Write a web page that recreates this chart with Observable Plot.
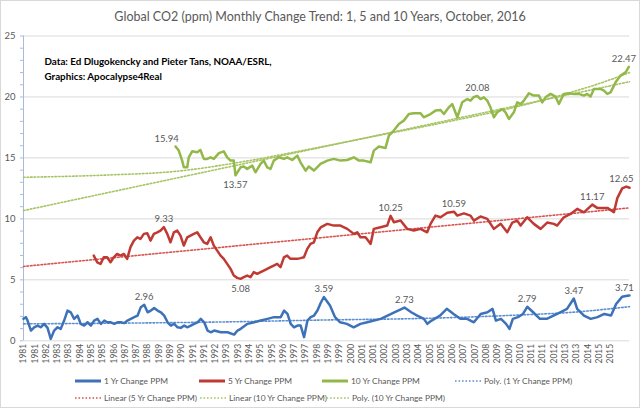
<!DOCTYPE html>
<html><head><meta charset="utf-8">
<script src="https://cdn.jsdelivr.net/npm/d3@7"></script>
<script src="https://cdn.jsdelivr.net/npm/@observablehq/plot@0.6"></script>
<style>
body{margin:0;background:#fff;}
#chart{position:relative;width:640px;height:408px;font-family:Lato,"Open Sans",sans-serif;overflow:hidden;background:#fff;}
#title{height:26px;padding-top:4px;line-height:26px;text-align:center;font-size:12.5px;color:#595959;}
#plot svg{display:block;}
#legend{position:relative;height:36px;font-size:8.4px;color:#595959;}
.item{position:absolute;display:flex;align-items:center;white-space:nowrap;height:12px;}
.item svg{margin-right:3px;}
#frame{position:absolute;left:0;top:0;width:640px;height:408px;box-sizing:border-box;border:1px solid #d9d9d9;pointer-events:none;}
</style></head>
<body>
<div id="chart">
  <div id="title">Global CO2 (ppm) Monthly Change Trend: 1, 5 and 10 Years, October, 2016</div>
  <div id="plot"></div>
  <div id="legend"></div>
  <div id="frame"></div>
</div>
<script>
// ---------- data (decimal year, ppm change) ----------
const oneYrDates = [1981.00,1981.14,1981.24,1981.44,1981.63,1981.83,1982.02,1982.22,1982.42,1982.61,1982.81,1983.01,1983.20,1983.40,1983.60,1983.79,1983.99,1984.19,1984.38,1984.58,1984.78,1984.98,1985.17,1985.37,1985.57,1985.77,1985.96,1986.16,1986.36,1986.55,1986.75,1986.95,1987.14,1987.34,1987.54,1987.74,1987.93,1988.13,1988.33,1988.52,1988.72,1988.92,1989.11,1989.31,1989.51,1989.70,1989.90,1990.10,1990.29,1990.49,1990.69,1990.88,1991.08,1991.28,1991.47,1991.67,1991.87,1992.06,1992.26,1992.65,1993.05,1993.44,1993.64,1993.83,1994.23,1994.62,1995.01,1995.41,1995.80,1996.19,1996.39,1996.59,1996.78,1996.98,1997.18,1997.37,1997.57,1997.77,1997.96,1998.16,1998.36,1998.55,1998.74,1999.10,1999.40,1999.70,2000.10,2000.50,2000.90,2001.30,2001.70,2002.10,2002.50,2002.90,2003.50,2003.90,2004.25,2004.65,2004.85,2005.10,2005.60,2006.00,2006.40,2006.80,2007.20,2007.60,2008.00,2008.40,2008.70,2008.90,2009.20,2009.50,2009.70,2009.90,2010.20,2010.50,2010.75,2011.10,2011.50,2011.90,2012.30,2012.70,2013.10,2013.50,2013.70,2014.10,2014.50,2014.90,2015.30,2015.70,2016.00,2016.36,2016.65,2016.79];
const oneYrValues = [1.80,1.94,1.66,0.84,1.11,1.25,1.11,1.39,1.06,0.16,0.84,1.11,0.98,1.66,2.48,2.34,1.80,2.07,1.39,1.25,1.52,1.25,1.66,1.80,1.39,1.66,1.52,1.52,1.39,1.52,1.52,1.45,1.66,1.80,1.94,2.07,2.76,2.96,2.34,2.48,2.68,2.48,2.34,2.07,1.52,1.25,1.39,1.11,1.06,1.25,1.11,1.25,1.39,1.52,1.80,1.52,0.84,0.70,0.84,0.70,0.70,0.51,0.84,0.98,1.39,1.52,1.66,1.80,1.94,1.94,2.48,2.20,1.39,1.11,1.25,1.25,0.30,1.66,1.94,2.07,2.48,3.10,3.59,2.89,1.94,1.52,1.39,1.11,1.39,1.52,1.66,1.80,2.07,2.34,2.73,2.34,2.07,1.80,1.39,1.66,2.07,2.62,2.20,1.80,1.80,1.52,2.20,2.34,2.62,1.66,1.80,1.39,0.98,1.80,1.94,2.20,2.79,2.34,1.80,1.80,2.07,2.34,2.62,3.47,2.62,2.07,1.80,1.94,2.20,2.07,3.02,3.62,3.70,3.71];

const fiveYrDates = [1985.15,1985.35,1985.55,1985.74,1985.94,1986.14,1986.33,1986.53,1986.73,1986.93,1987.12,1987.32,1987.52,1987.72,1987.91,1988.11,1988.31,1988.50,1988.70,1988.90,1989.09,1989.29,1989.49,1989.68,1989.88,1990.08,1990.27,1990.47,1990.67,1990.86,1991.06,1991.26,1991.45,1991.65,1991.85,1992.05,1992.24,1992.44,1992.64,1992.83,1993.03,1993.23,1993.42,1993.62,1993.82,1994.01,1994.21,1994.41,1994.60,1994.80,1995.00,1995.19,1995.39,1995.59,1995.78,1995.98,1996.18,1996.38,1996.57,1996.77,1996.97,1997.17,1997.36,1997.56,1997.76,1997.95,1998.15,1998.35,1998.55,1998.94,1999.33,1999.72,2000.12,2000.51,2000.71,2000.90,2001.20,2001.50,2001.69,2002.09,2002.48,2002.68,2002.87,2003.27,2003.66,2004.05,2004.45,2004.84,2005.04,2005.33,2005.63,2006.03,2006.42,2006.62,2007.01,2007.40,2007.60,2007.99,2008.39,2008.78,2009.18,2009.57,2009.87,2010.16,2010.36,2010.75,2011.14,2011.54,2011.93,2012.32,2012.52,2012.91,2013.31,2013.70,2014.10,2014.59,2014.88,2015.48,2015.87,2016.07,2016.36,2016.60,2016.79];
const fiveYrValues = [6.99,6.44,6.31,6.85,6.85,6.44,6.85,7.12,6.99,7.12,6.72,7.68,8.22,8.49,8.36,8.77,8.82,8.22,8.77,8.90,9.04,9.33,8.77,8.08,8.90,9.04,8.63,7.81,8.49,8.63,8.77,8.90,8.49,8.08,7.95,8.49,7.81,7.40,6.99,6.72,6.31,5.90,5.35,5.16,5.08,5.22,5.35,5.22,5.63,5.49,5.63,5.76,5.90,6.04,6.17,6.31,6.04,6.85,6.99,6.72,6.72,6.72,6.78,6.85,7.54,7.95,8.08,8.90,9.30,9.59,9.45,9.45,9.18,8.77,8.90,8.49,8.49,7.95,9.18,9.32,9.45,10.25,9.73,9.86,9.18,9.04,9.18,8.90,9.59,10.27,10.13,10.50,10.59,10.27,10.45,10.27,9.86,10.20,10.00,9.18,9.60,8.90,9.70,9.86,9.45,10.13,9.59,9.18,9.70,9.59,9.45,10.13,10.41,10.82,10.54,11.17,10.90,10.90,10.55,11.70,12.50,12.65,12.55];

const tenYrDates = [1989.98,1990.17,1990.37,1990.47,1990.67,1990.76,1990.96,1991.26,1991.45,1991.65,1991.85,1992.05,1992.24,1992.54,1992.83,1993.03,1993.23,1993.42,1993.52,1993.82,1994.01,1994.21,1994.51,1994.70,1995.00,1995.19,1995.39,1995.59,1995.78,1996.08,1996.38,1996.57,1996.87,1997.17,1997.36,1997.66,1997.85,1998.15,1998.44,1998.54,1998.94,1999.33,1999.72,2000.12,2000.51,2000.81,2001.10,2001.50,2001.69,2001.99,2002.38,2002.58,2002.87,2003.17,2003.46,2003.76,2004.05,2004.45,2004.64,2005.04,2005.33,2005.63,2005.83,2006.12,2006.32,2006.62,2006.91,2007.21,2007.40,2007.60,2007.80,2007.99,2008.19,2008.39,2008.58,2008.78,2008.98,2009.27,2009.47,2009.67,2009.96,2010.16,2010.36,2010.55,2010.85,2011.14,2011.44,2011.64,2011.83,2012.13,2012.42,2012.62,2012.91,2013.21,2013.50,2013.80,2014.10,2014.29,2014.49,2014.69,2015.08,2015.28,2015.48,2015.67,2015.97,2016.26,2016.56,2016.75];
const tenYrValues = [15.94,15.60,14.78,14.23,14.23,15.05,15.54,15.46,15.65,14.92,14.92,15.05,14.92,15.39,15.54,15.05,14.78,14.78,13.57,14.23,14.29,14.10,14.37,13.82,14.51,14.78,14.23,14.10,14.78,15.05,14.92,15.05,14.83,15.19,14.64,13.96,14.29,13.96,14.37,14.51,14.78,14.92,14.78,14.83,15.05,14.78,14.78,14.64,15.60,15.93,15.82,16.83,17.24,17.78,18.06,18.60,18.66,18.66,18.33,18.60,18.88,18.93,18.60,19.15,19.42,18.33,19.56,19.83,19.70,20.00,20.08,19.83,19.97,19.70,19.15,18.33,18.74,19.01,18.74,18.19,18.74,19.56,19.42,19.70,20.30,20.11,20.11,19.56,19.97,20.25,20.03,19.42,20.25,20.30,20.25,20.25,20.11,20.25,20.03,20.66,20.66,20.52,20.25,20.38,21.20,21.75,22.02,22.47];

// trendlines
const polyOneDates = [1981, 1987, 1993, 1998.5, 2005, 2010, 2013.5, 2016.79];
const polyOneValues = [1.39, 1.45, 1.55, 1.70, 1.85, 2.10, 2.35, 2.80];
const linFiveDates = [1981, 2016.79];
const linFiveValues = [6.10, 10.90];
const linTenDates = [1981, 2016.79];
const linTenValues = [10.68, 21.25];
const polyTenDates = [1981, 1986, 1990, 1994, 1998, 2002, 2006, 2010, 2013, 2015, 2016.79];
const polyTenValues = [13.41, 13.60, 13.90, 14.70, 15.75, 16.85, 17.95, 19.15, 20.25, 21.10, 22.00];

// data labels
const labelDates = [1988.13, 1998.74, 2003.50, 2010.75, 2013.50, 2016.79, 1989.29, 1993.82, 2002.68, 2006.42, 2014.59, 2016.60, 1989.98, 1993.52, 2007.80, 2016.75];
const labelValues = [2.96, 3.59, 2.73, 2.79, 3.47, 3.71, 9.33, 5.08, 10.25, 10.59, 11.17, 12.65, 15.94, 13.57, 20.08, 22.47];

// axes
const yTickValues = [0, 5, 10, 15, 20, 25];
const xTickLabels = ["1981","1981","1982","1983","1983","1984","1985","1985","1986","1987","1987","1988","1989","1989","1990","1991","1991","1992","1993","1993","1994","1995","1995","1996","1997","1997","1998","1999","1999","2000","2001","2001","2002","2003","2003","2004","2005","2005","2006","2007","2007","2008","2009","2009","2010","2011","2011","2012","2013","2013","2014","2015","2015"];
const annotation = "Data: Ed Dlugokencky and Pieter Tans, NOAA/ESRL,\nGraphics: Apocalypse4Real";

// ---------- build ----------
const BLUE = "#3d72b8", RED = "#be3a32", GREEN = "#93b84a";
const BLUE_T = "#5b8fd3", RED_T = "#d9534f", GREEN_T = "#a6c464";
const zip = (ds, vs) => ds.map((t, i) => ({t, v: vs[i]}));
const oneYr = zip(oneYrDates, oneYrValues);
const fiveYr = zip(fiveYrDates, fiveYrValues);
const tenYr = zip(tenYrDates, tenYrValues);
const labels = labelDates.map((t, i) => ({t, v: labelValues[i], text: labelValues[i].toFixed(2)}));
const belowSet = new Set(["5.08", "13.57"]);
const leftSet = new Set(["15.94"]);
const edgeSet = new Set(["3.71", "12.65", "22.47"]);
const isPlain = d => !belowSet.has(d.text) && !leftSet.has(d.text) && !edgeSet.has(d.text);
const xTickPos = xTickLabels.map((s, i) => 1981 + i * 8 / 12);
const xLabelMap = new Map(xTickPos.map((p, i) => [p, xTickLabels[i]]));
const minorTicks = d3.range(0, 26);

const dotted = {strokeWidth: 1.6, strokeDasharray: "1.6 1.9"};
const labelStyle = {x: "t", y: "v", text: "text", fill: "#595959", fontSize: 9.5};

const chart = Plot.plot({
  width: 640, height: 342,
  marginLeft: 23, marginRight: 11, marginTop: 5.5, marginBottom: 31.7,
  x: {type: "linear", domain: [1981, 2016.79], axis: null},
  y: {domain: [0, 25], axis: null},
  style: {fontFamily: "Lato, 'Open Sans', sans-serif", fontSize: "9px", color: "#595959", background: "white", overflow: "visible"},
  marks: [
    Plot.ruleY(yTickValues.filter(d => d > 0), {stroke: "#d9d9d9"}),
    Plot.ruleY([0], {stroke: "#d9d9d9"}),
    Plot.ruleX([1981], {y1: 0, y2: 25, stroke: "#a9bbda"}),
    Plot.axisY({ticks: minorTicks, tickSize: 3, tickFormat: () => "", stroke: "#a9bbda", label: null}),
    Plot.axisY({ticks: yTickValues, tickSize: 0, tickPadding: 8, fill: "#595959", fontSize: 9.5, label: null}),
    Plot.axisX({ticks: xTickPos, tickFormat: d => xLabelMap.get(d), tickRotate: -90, tickSize: 0, tickPadding: 3, fill: "#595959", fontSize: 8.5, label: null}),
    Plot.line(zip(polyOneDates, polyOneValues), {x: "t", y: "v", stroke: BLUE_T, curve: "monotone-x", ...dotted}),
    Plot.line(zip(linFiveDates, linFiveValues), {x: "t", y: "v", stroke: RED_T, ...dotted}),
    Plot.line(zip(linTenDates, linTenValues), {x: "t", y: "v", stroke: GREEN_T, ...dotted}),
    Plot.line(zip(polyTenDates, polyTenValues), {x: "t", y: "v", stroke: GREEN_T, curve: "monotone-x", ...dotted}),
    Plot.line(oneYr, {x: "t", y: "v", stroke: BLUE, strokeWidth: 2.5, strokeLinejoin: "round"}),
    Plot.line(fiveYr, {x: "t", y: "v", stroke: RED, strokeWidth: 2.5, strokeLinejoin: "round"}),
    Plot.line(tenYr, {x: "t", y: "v", stroke: GREEN, strokeWidth: 2.5, strokeLinejoin: "round"}),
    Plot.text(labels.filter(isPlain), {...labelStyle, dy: -8}),
    Plot.text(labels.filter(d => belowSet.has(d.text)), {...labelStyle, dy: 10}),
    Plot.text(labels.filter(d => leftSet.has(d.text)), {...labelStyle, dy: -8, dx: -9}),
    Plot.text(labels.filter(d => edgeSet.has(d.text)), {...labelStyle, dy: -8, dx: -5}),
    Plot.text([annotation], {frameAnchor: "top-left", dx: 21, dy: 19, textAnchor: "start", lineAnchor: "top", lineHeight: 1.5, fontWeight: "bold", fill: "#000", fontSize: 9.8})
  ]
});
document.getElementById("plot").appendChild(chart);

// ---------- legend ----------
const legendItems = [
  {label: "1 Yr Change PPM", color: BLUE, dash: false, x: 75, row: 0},
  {label: "5 Yr Change PPM", color: RED, dash: false, x: 199, row: 0},
  {label: "10 Yr Change PPM", color: GREEN, dash: false, x: 322, row: 0},
  {label: "Poly. (1 Yr Change PPM)", color: BLUE_T, dash: true, x: 455, row: 0},
  {label: "Linear (5 Yr Change PPM)", color: RED_T, dash: true, x: 75, row: 1},
  {label: "Linear (10 Yr Change PPM)", color: GREEN_T, dash: true, x: 200, row: 1},
  {label: "Poly. (10 Yr Change PPM)", color: GREEN_T, dash: true, x: 323, row: 1}
];
const leg = document.getElementById("legend");
legendItems.forEach(it => {
  const d = document.createElement("div");
  d.className = "item";
  d.style.left = it.x + "px";
  d.style.top = (it.row === 0 ? 3 : 20) + "px";
  const sw = it.dash
    ? `<svg width="26" height="6"><line x1="0" y1="3" x2="26" y2="3" stroke="${it.color}" stroke-width="1.6" stroke-dasharray="1.6 1.9"/></svg>`
    : `<svg width="26" height="6"><line x1="0" y1="3" x2="26" y2="3" stroke="${it.color}" stroke-width="3"/></svg>`;
  d.innerHTML = sw + `<span>${it.label}</span>`;
  leg.appendChild(d);
});
</script>
</body></html>
